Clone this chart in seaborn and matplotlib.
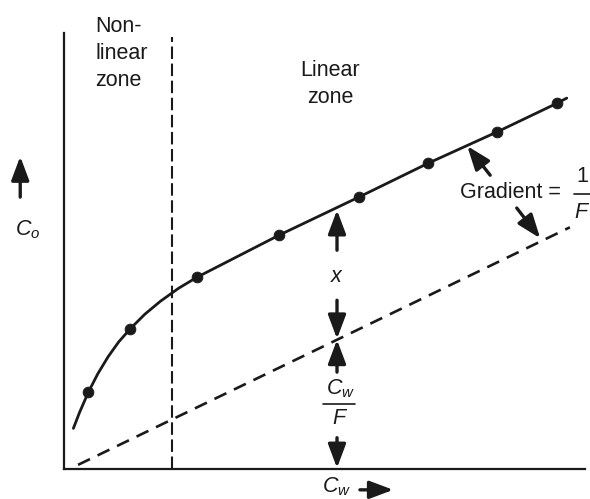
import numpy as np
import pandas as pd
import matplotlib
matplotlib.use('Agg')
import matplotlib.pyplot as plt
import seaborn as sns

# ── Data (arbitrary units) ───────────────────────────────────────────────────
# solid curve C_o vs C_w (traced points along the line)
curve_x = [0.18, 0.30, 0.47, 0.65, 0.85, 1.05, 1.27, 1.55, 1.85, 2.20,
           2.55, 4.13, 5.66, 6.99, 8.31, 9.46, 9.65]
curve_y = [0.78, 1.09, 1.48, 1.83, 2.16, 2.44, 2.69, 2.97, 3.22, 3.47,
           3.68, 4.49, 5.22, 5.87, 6.47, 7.02, 7.12]
# measured points (dots)
dots_x = [0.47, 1.27, 2.55, 4.13, 5.66, 6.99, 8.31, 9.46]
dots_y = [1.48, 2.69, 3.68, 4.49, 5.22, 5.87, 6.47, 7.02]
# dashed line C_w / F
cwf_x = [0.27, 9.71]
cwf_y = [0.08, 4.64]
# boundary between zones
zone_x = 2.07
zone_top = 8.29

XMAX, YMAX = 10.0, 8.37

sns.set_theme(style='white')
plt.rcParams['font.family'] = ['Liberation Sans', 'DejaVu Sans']
plt.rcParams['mathtext.fontset'] = 'custom'
plt.rcParams['mathtext.rm'] = 'Liberation Sans'
plt.rcParams['mathtext.it'] = 'Liberation Sans:italic'

INK = '#1a1a1a'
FS = 15.5

fig = plt.figure(figsize=(5.90, 4.99), dpi=100)
ax = fig.add_axes([64/590, 30/499, 521/590, 436/499])
ax.set_xlim(0, XMAX)
ax.set_ylim(0, YMAX)

df_curve = pd.DataFrame({'Cw': curve_x, 'Co': curve_y})
df_dots = pd.DataFrame({'Cw': dots_x, 'Co': dots_y})
df_cwf = pd.DataFrame({'Cw': cwf_x, 'Co': cwf_y})

sns.lineplot(data=df_curve, x='Cw', y='Co', sort=False, color=INK, lw=2.0, ax=ax)
sns.scatterplot(data=df_dots, x='Cw', y='Co', color=INK, s=60, edgecolor=INK,
                zorder=3, ax=ax)
sns.lineplot(data=df_cwf, x='Cw', y='Co', sort=False, color=INK, lw=1.9,
             ax=ax, dashes=False, linestyle=(0, (5, 3.2)))
ax.plot([zone_x, zone_x], [0, zone_top], color=INK, lw=1.5,
        linestyle=(0, (6, 2.2)))

# axes look
for side in ['top', 'right']:
    ax.spines[side].set_visible(False)
for side in ['left', 'bottom']:
    ax.spines[side].set_color(INK)
    ax.spines[side].set_linewidth(1.6)
ax.set_xticks([])
ax.set_yticks([])
ax.set_xlabel('')
ax.set_ylabel('')

def arrow(x0, y0, x1, y1, scale=18):
    ax.annotate('', xy=(x1, y1), xytext=(x0, y0), annotation_clip=False,
                arrowprops=dict(arrowstyle='-|>,head_length=0.8,head_width=0.3',
                                color=INK, lw=2.4, shrinkA=0, shrinkB=0,
                                mutation_scale=scale))

# vertical measurement at C_w = 5.24
xm = 5.24
arrow(xm, 4.20, xm, 4.97)
ax.text(xm, 3.69, '$x$', ha='center', va='center', fontsize=FS, color=INK)
arrow(xm, 3.24, xm, 2.50)
arrow(xm, 1.86, xm, 2.48)
ax.text(xm + 0.07, 1.55, '$C_w$', ha='center', va='center', fontsize=FS, color=INK)
ax.plot([xm - 0.27, xm + 0.35], [1.25, 1.25], color=INK, lw=1.2)
ax.text(xm + 0.05, 0.97, '$F$', ha='center', va='center', fontsize=FS, color=INK)
arrow(xm, 0.60, xm, 0.02)

# gradient annotation
arrow(8.18, 5.64, 7.74, 6.20)
arrow(8.69, 5.01, 9.14, 4.43)
ax.text(7.60, 5.30, 'Gradient =', ha='left', va='center', fontsize=FS, color=INK)
ax.text(9.95, 5.62, '1', ha='center', va='center', fontsize=FS, color=INK,
        clip_on=False)
ax.plot([9.78, 10.2], [5.27, 5.27], color=INK, lw=1.2, clip_on=False)
ax.text(9.95, 4.93, '$F$', ha='center', va='center', fontsize=FS, color=INK,
        clip_on=False)

# zone labels
ax.text(0.60, 7.98, 'Non-\nlinear\nzone', ha='left', va='center', fontsize=FS,
        color=INK, linespacing=1.38)
ax.text(5.11, 7.39, 'Linear\nzone', ha='center', va='center', fontsize=FS,
        color=INK, linespacing=1.38)

# axis labels
ax.text(-0.69, 4.59, '$C_o$', ha='center', va='center', fontsize=FS, color=INK,
        clip_on=False)
arrow(-0.84, 5.22, -0.84, 6.00)
ax.text(5.24, -0.34, '$C_w$', ha='center', va='center', fontsize=FS, color=INK,
        clip_on=False)
arrow(5.68, -0.40, 6.32, -0.40)

fig.savefig('out.png', dpi=100)
plt.close(fig)
